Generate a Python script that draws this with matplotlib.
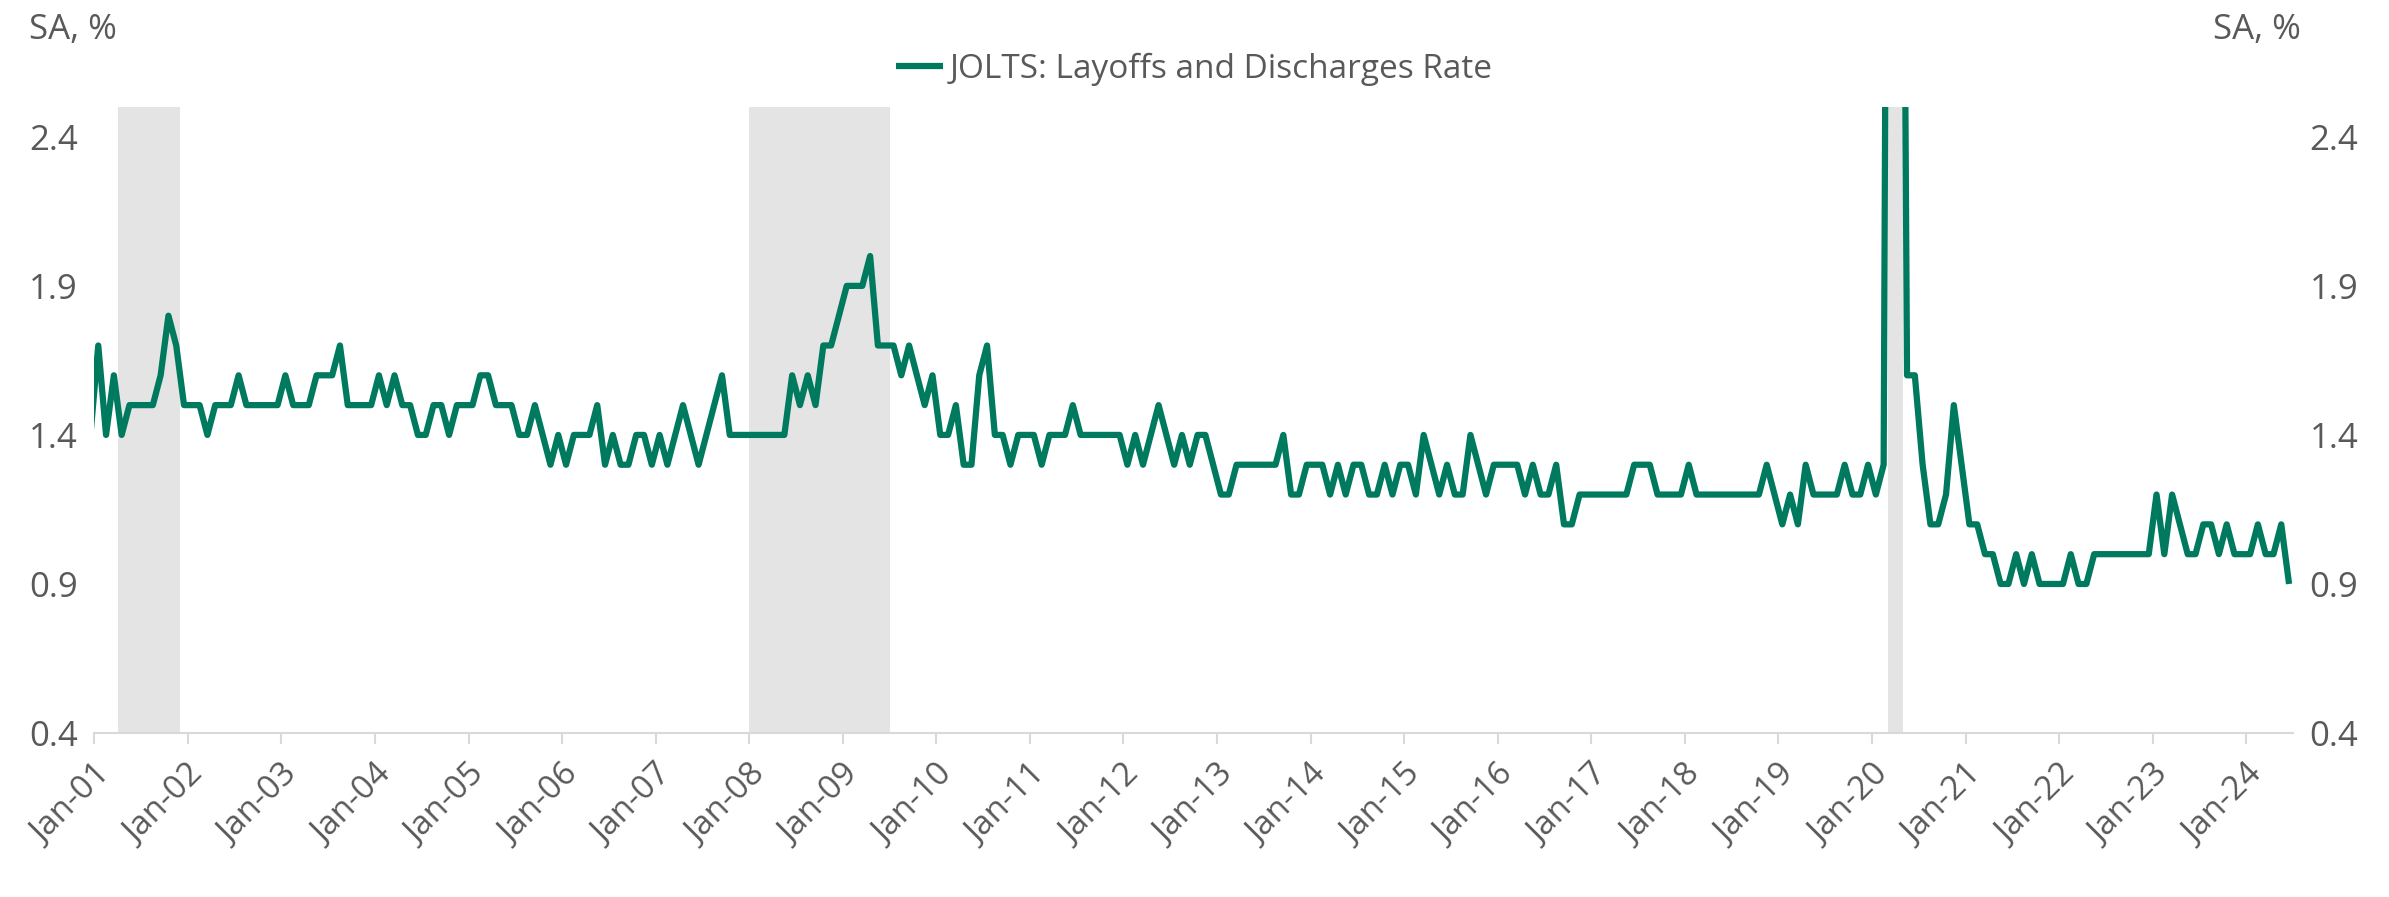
import numpy as np
import pandas as pd
import matplotlib.pyplot as plt

# JOLTS layoffs and discharges rate, SA %, monthly from Dec-00
first_month = '2000-12'
rate = [1.4,
        1.7, 1.4, 1.6, 1.4, 1.5, 1.5, 1.5, 1.5, 1.6, 1.8, 1.7, 1.5,  # 2001
        1.5, 1.5, 1.4, 1.5, 1.5, 1.5, 1.6, 1.5, 1.5, 1.5, 1.5, 1.5,  # 2002
        1.6, 1.5, 1.5, 1.5, 1.6, 1.6, 1.6, 1.7, 1.5, 1.5, 1.5, 1.5,  # 2003
        1.6, 1.5, 1.6, 1.5, 1.5, 1.4, 1.4, 1.5, 1.5, 1.4, 1.5, 1.5,  # 2004
        1.5, 1.6, 1.6, 1.5, 1.5, 1.5, 1.4, 1.4, 1.5, 1.4, 1.3, 1.4,  # 2005
        1.3, 1.4, 1.4, 1.4, 1.5, 1.3, 1.4, 1.3, 1.3, 1.4, 1.4, 1.3,  # 2006
        1.4, 1.3, 1.4, 1.5, 1.4, 1.3, 1.4, 1.5, 1.6, 1.4, 1.4, 1.4,  # 2007
        1.4, 1.4, 1.4, 1.4, 1.4, 1.6, 1.5, 1.6, 1.5, 1.7, 1.7, 1.8,  # 2008
        1.9, 1.9, 1.9, 2.0, 1.7, 1.7, 1.7, 1.6, 1.7, 1.6, 1.5, 1.6,  # 2009
        1.4, 1.4, 1.5, 1.3, 1.3, 1.6, 1.7, 1.4, 1.4, 1.3, 1.4, 1.4,  # 2010
        1.4, 1.3, 1.4, 1.4, 1.4, 1.5, 1.4, 1.4, 1.4, 1.4, 1.4, 1.4,  # 2011
        1.3, 1.4, 1.3, 1.4, 1.5, 1.4, 1.3, 1.4, 1.3, 1.4, 1.4, 1.3,  # 2012
        1.2, 1.2, 1.3, 1.3, 1.3, 1.3, 1.3, 1.3, 1.4, 1.2, 1.2, 1.3,  # 2013
        1.3, 1.3, 1.2, 1.3, 1.2, 1.3, 1.3, 1.2, 1.2, 1.3, 1.2, 1.3,  # 2014
        1.3, 1.2, 1.4, 1.3, 1.2, 1.3, 1.2, 1.2, 1.4, 1.3, 1.2, 1.3,  # 2015
        1.3, 1.3, 1.3, 1.2, 1.3, 1.2, 1.2, 1.3, 1.1, 1.1, 1.2, 1.2,  # 2016
        1.2, 1.2, 1.2, 1.2, 1.2, 1.3, 1.3, 1.3, 1.2, 1.2, 1.2, 1.2,  # 2017
        1.3, 1.2, 1.2, 1.2, 1.2, 1.2, 1.2, 1.2, 1.2, 1.2, 1.3, 1.2,  # 2018
        1.1, 1.2, 1.1, 1.3, 1.2, 1.2, 1.2, 1.2, 1.3, 1.2, 1.2, 1.3,  # 2019
        1.2, 1.3, 7.5, 5.9, 1.6, 1.6, 1.3, 1.1, 1.1, 1.2, 1.5, 1.3,  # 2020
        1.1, 1.1, 1.0, 1.0, 0.9, 0.9, 1.0, 0.9, 1.0, 0.9, 0.9, 0.9,  # 2021
        0.9, 1.0, 0.9, 0.9, 1.0, 1.0, 1.0, 1.0, 1.0, 1.0, 1.0, 1.0,  # 2022
        1.2, 1.0, 1.2, 1.1, 1.0, 1.0, 1.1, 1.1, 1.0, 1.1, 1.0, 1.0,  # 2023
        1.0, 1.1, 1.0, 1.0, 1.1, 0.9]                                # 2024

# NBER recessions, shaded from first month after peak through trough
rec_start = ['2001-04', '2008-01', '2020-03']
rec_end = ['2001-12', '2009-07', '2020-05']

yticks = [0.4, 0.9, 1.4, 1.9, 2.4]
tick_years = list(range(2001, 2025))
series_name = 'JOLTS: Layoffs and Discharges Rate'

green = '#007a5e'
grey_txt = '#595959'

plt.rcParams['font.family'] = ['Open Sans', 'DejaVu Sans']

base = pd.Period('2001-01', freq='M')
months = pd.period_range(first_month, periods=len(rate), freq='M')
x = np.array([(m - base).n for m in months]) + 0.5
x_end = (pd.Period('2024-07', freq='M') - base).n

fig = plt.figure(figsize=(23.89, 8.97), dpi=100)
ax = fig.add_axes([0.0395, 0.1828, 0.9203, 0.6979])

for s, e in zip(rec_start, rec_end):
    ax.axvspan((pd.Period(s, freq='M') - base).n, (pd.Period(e, freq='M') - base).n,
               color='#e4e4e4', lw=0, zorder=0)

ax.plot(x, rate, color=green, lw=4.5, solid_joinstyle='round', solid_capstyle='butt',
        label=series_name, zorder=3)

ax.set_xlim(0, x_end)
ax.set_ylim(0.4, 2.5)
ax.set_yticks(yticks)
ax.set_yticklabels([f'{v:.1f}' for v in yticks])
ax.set_xticks([(pd.Period(f'{y}-01', freq='M') - base).n for y in tick_years])
ax.set_xticklabels([f'Jan-{y % 100:02d}' for y in tick_years], rotation=45,
                   ha='right', va='top', rotation_mode='anchor')

for sp in ['top', 'right', 'left']:
    ax.spines[sp].set_visible(False)
ax.spines['bottom'].set_color('#d9d9d9')
ax.spines['bottom'].set_linewidth(1.5)
ax.tick_params(axis='x', colors='#d9d9d9', width=1.5, length=8, labelcolor=grey_txt,
               labelsize=24, pad=10)
ax.tick_params(axis='y', length=0, labelcolor=grey_txt, labelsize=25, pad=12)

ax2 = ax.twinx()
ax2.set_ylim(0.4, 2.5)
ax2.set_yticks(yticks)
ax2.set_yticklabels([f'{v:.1f}' for v in yticks])
for sp in ax2.spines.values():
    sp.set_visible(False)
ax2.tick_params(axis='y', length=0, labelcolor=grey_txt, labelsize=25, pad=12)

fig.text(0.012, 0.966, 'SA, %', color=grey_txt, fontsize=25, va='center', ha='left')
fig.text(0.963, 0.966, 'SA, %', color=grey_txt, fontsize=25, va='center', ha='right')

fig.legend(loc='center', bbox_to_anchor=(0.5, 0.923), frameon=False, fontsize=24,
           labelcolor=grey_txt, handlelength=1.4, handletextpad=0.2)

fig.savefig('out.png', dpi=100)
